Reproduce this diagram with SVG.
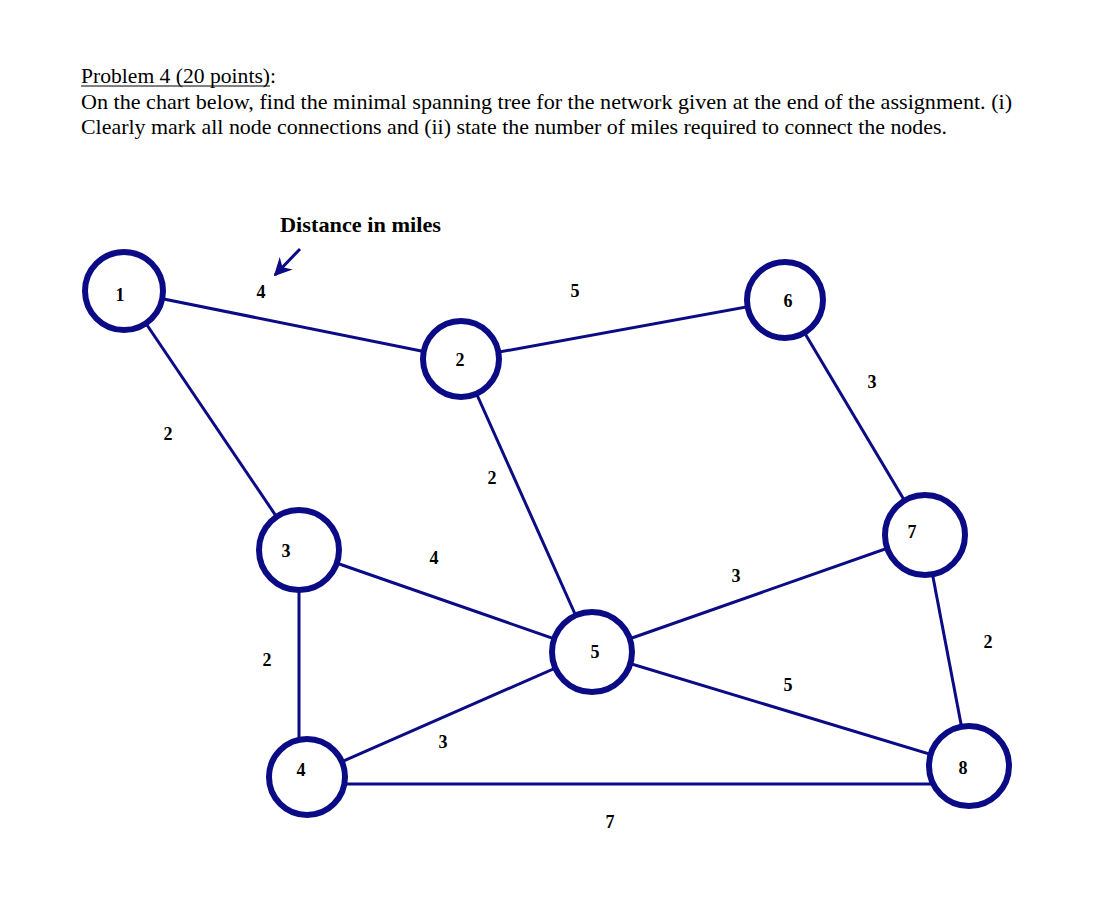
<svg xmlns="http://www.w3.org/2000/svg" width="1120" height="910" viewBox="0 0 1120 910">
<defs>
<style>
.hdr{font-family:"Liberation Serif","Times New Roman",serif;font-size:21.5px;fill:#000}
.lbl{font-family:"Liberation Serif","Times New Roman",serif;font-size:18px;font-weight:bold;fill:#000;text-anchor:middle;dominant-baseline:central}
.node circle{fill:#fff;stroke:#0b0b85;stroke-width:6}
.edges line{stroke:#0b0b85;stroke-width:3}
</style>
<marker id="ah" viewBox="0 0 10 10" refX="9" refY="5" markerWidth="6" markerHeight="6" orient="auto" markerUnits="strokeWidth">
<path d="M0,0 L10,5 L0,10 L3,5 z" fill="#0b0b85"/>
</marker>
</defs>
<rect width="1120" height="910" fill="#fff"/>
<text class="hdr" x="81" y="83" textLength="195" lengthAdjust="spacingAndGlyphs">Problem 4 (20 points):</text>
<line x1="81" y1="86" x2="270" y2="86" stroke="#000" stroke-width="1"/>
<text class="hdr" x="81" y="109" textLength="931" lengthAdjust="spacingAndGlyphs">On the chart below, find the minimal spanning tree for the network given at the end of the assignment.  (i)</text>
<text class="hdr" x="81" y="134" textLength="866" lengthAdjust="spacingAndGlyphs">Clearly mark all node connections and (ii) state the number of miles required to connect the nodes.</text>
<text x="280" y="232" textLength="161" lengthAdjust="spacingAndGlyphs" style="font-family:'Liberation Serif','Times New Roman',serif;font-size:21px;font-weight:bold">Distance in miles</text>
<line x1="300" y1="249" x2="275" y2="275" stroke="#0b0b85" stroke-width="3" marker-end="url(#ah)"/>
<g class="edges" id="connectors">
<line x1="124" y1="291" x2="461" y2="359"/>
<line x1="124" y1="291" x2="299" y2="550"/>
<line x1="461" y1="359" x2="785" y2="300"/>
<line x1="461" y1="359" x2="592" y2="652"/>
<line x1="785" y1="300" x2="925" y2="535"/>
<line x1="299" y1="550" x2="592" y2="652"/>
<line x1="299" y1="550" x2="299" y2="777"/>
<line x1="307" y1="777" x2="592" y2="652"/>
<line x1="307" y1="784" x2="969" y2="784"/>
<line x1="592" y1="652" x2="925" y2="535"/>
<line x1="592" y1="652" x2="969" y2="766"/>
<line x1="925" y1="535" x2="969" y2="766"/>
</g>
<g id="edge-labels">
<text class="lbl" x="261" y="292">4</text>
<text class="lbl" x="575" y="291">5</text>
<text class="lbl" x="872" y="382">3</text>
<text class="lbl" x="168" y="434">2</text>
<text class="lbl" x="492" y="478">2</text>
<text class="lbl" x="434" y="558">4</text>
<text class="lbl" x="736" y="576">3</text>
<text class="lbl" x="267" y="660">2</text>
<text class="lbl" x="988" y="642">2</text>
<text class="lbl" x="788" y="685">5</text>
<text class="lbl" x="443" y="742">3</text>
<text class="lbl" x="610" y="822">7</text>
</g>
<g class="node" id="node1"><circle cx="124" cy="291" r="39"/><text class="lbl" x="120" y="295">1</text></g>
<g class="node" id="node2"><circle cx="461" cy="359" r="38"/><text class="lbl" x="460" y="360">2</text></g>
<g class="node" id="node3"><circle cx="299" cy="550" r="40"/><text class="lbl" x="286" y="551">3</text></g>
<g class="node" id="node4"><circle cx="307" cy="777" r="38"/><text class="lbl" x="301" y="770">4</text></g>
<g class="node" id="node5"><circle cx="592" cy="652" r="40"/><text class="lbl" x="595" y="652">5</text></g>
<g class="node" id="node6"><circle cx="785" cy="300" r="38"/><text class="lbl" x="788" y="301">6</text></g>
<g class="node" id="node7"><circle cx="925" cy="535" r="40"/><text class="lbl" x="912" y="532">7</text></g>
<g class="node" id="node8"><circle cx="969" cy="766" r="40"/><text class="lbl" x="963" y="768">8</text></g>
</svg>
